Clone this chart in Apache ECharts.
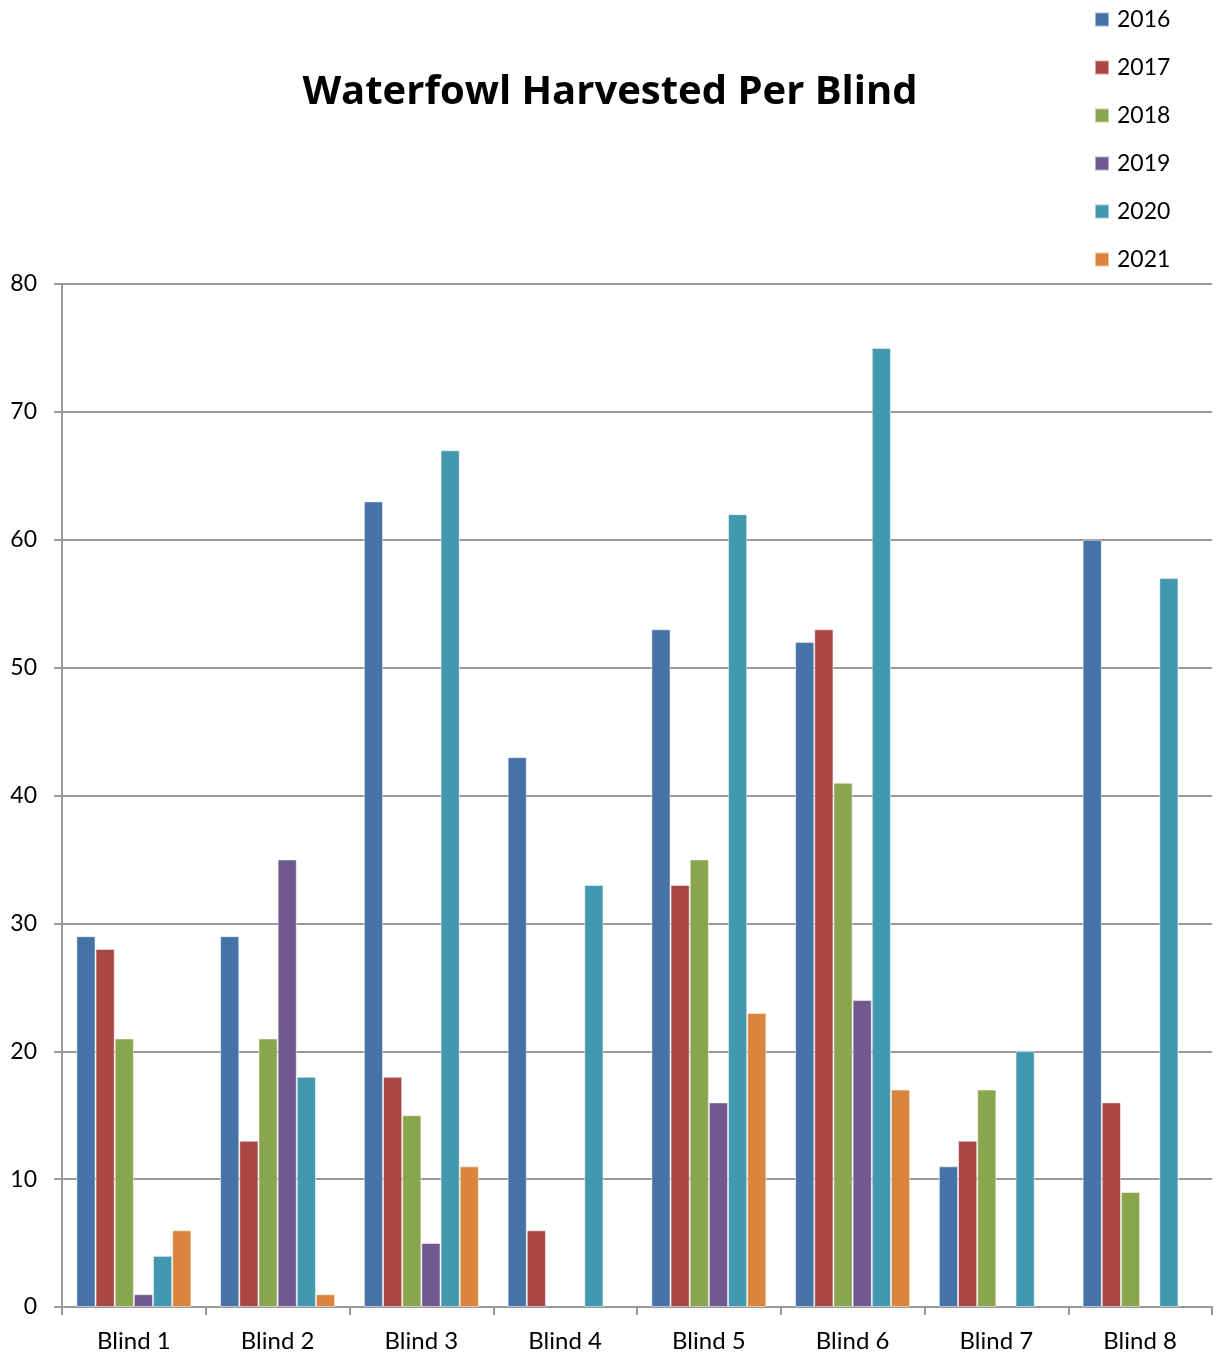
<!DOCTYPE html>
<html>
<head>
<meta charset="utf-8">
<script src="https://cdn.jsdelivr.net/npm/echarts@6/dist/echarts.min.js"></script>
<style>html,body{margin:0;padding:0;background:#fff;}#c{width:1217px;height:1356px;}</style>
</head>
<body>
<div id="c"></div>
<script>
const categories = ['Blind 1','Blind 2','Blind 3','Blind 4','Blind 5','Blind 6','Blind 7','Blind 8'];
const years = ['2016','2017','2018','2019','2020','2021'];
const y2016 = [29, 29, 63, 43, 53, 52, 11, 60];
const y2017 = [28, 13, 18, 6, 33, 53, 13, 16];
const y2018 = [21, 21, 15, null, 35, 41, 17, 9];
const y2019 = [1, 35, 5, null, 16, 24, null, null];
const y2020 = [4, 18, 67, 33, 62, 75, 20, 57];
const y2021 = [6, 1, 11, null, 23, 17, null, null];
const yTicks = [0, 10, 20, 30, 40, 50, 60, 70, 80];

const seriesData = [y2016, y2017, y2018, y2019, y2020, y2021];
const colors = ['#4572A7', '#AA4643', '#89A54E', '#71588F', '#4198AF', '#DB843D'];
const font = 'Lato, "Open Sans", sans-serif';
const titleFont = '"Open Sans", "Noto Sans", sans-serif';

const chart = echarts.init(document.getElementById('c'), null, {renderer: 'canvas'});
chart.setOption({
  animation: false,
  color: colors,
  title: {
    text: 'Waterfowl Harvested Per Blind',
    left: 605, top: 68, textAlign: 'center',
    textStyle: {fontFamily: titleFont, fontWeight: 'bold', fontSize: 40, color: '#000'}
  },
  legend: {
    orient: 'vertical',
    left: 1094, top: 8, padding: 0,
    itemWidth: 14, itemHeight: 14, itemGap: 25,
    icon: 'rect',
    textStyle: {fontFamily: font, fontSize: 23, color: '#000', padding: [0,0,0,3]},
    data: years
  },
  grid: {left: 62, right: 5, top: 284, bottom: 49, containLabel: false},
  xAxis: {
    type: 'category',
    data: categories,
    axisLine: {lineStyle: {color: '#999', width: 2}},
    axisTick: {show: true, length: 8, lineStyle: {color: '#999', width: 2}},
    axisLabel: {fontFamily: font, fontSize: 24, color: '#000', margin: 22}
  },
  yAxis: {
    type: 'value',
    min: 0, max: 80, interval: 10,
    axisLine: {show: true, lineStyle: {color: '#999', width: 2}},
    axisTick: {show: true, length: 8, lineStyle: {color: '#999', width: 2}},
    splitLine: {lineStyle: {color: '#999', width: 2}},
    axisLabel: {fontFamily: font, fontSize: 23, color: '#000', margin: 25,
      formatter: v => yTicks.includes(v) ? String(v) : ''}
  },
  series: seriesData.map((d, i) => ({
    name: years[i],
    type: 'bar',
    data: d,
    barGap: '0%',
    barCategoryGap: '20%',
    itemStyle: {color: colors[i], borderColor: 'rgba(255,255,255,0.5)', borderWidth: 1}
  }))
});
</script>
</body>
</html>
